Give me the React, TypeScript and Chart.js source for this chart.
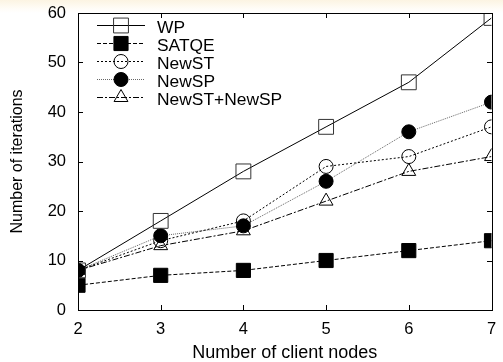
import React, { useEffect, useRef } from "react";
import { Chart, registerables } from "chart.js";

Chart.register(...registerables);

const xValues = [2, 3, 4, 5, 6, 7];
const wp = [8, 18, 28, 37, 46, 59];
const satqe = [5, 7, 8, 10, 12, 14];
const newST = [8, 14, 18, 29, 31, 37];
const newSP = [8, 15, 17, 26, 36, 42];
const newSTSP = [8, 13, 16, 22, 28, 31];
const seriesNames = ["WP", "SATQE", "NewST", "NewSP", "NewST+NewSP"];
const yTicks = [0, 10, 20, 30, 40, 50, 60];

const FONT = "'Liberation Sans', Arial, Helvetica, sans-serif";
const TARGET = { left: 78, right: 493, top: 13, bottom: 310 };

const toPts = (vals: number[]) => vals.map((v, i) => ({ x: xValues[i], y: v }));

function drawMarker(ctx: CanvasRenderingContext2D, style: string, x: number, y: number, r: number, fill: boolean, color: string) {
  ctx.save();
  ctx.setLineDash([]);
  ctx.lineWidth = 1;
  ctx.strokeStyle = color;
  ctx.fillStyle = color;
  ctx.beginPath();
  if (style === "rect") {
    const s = Math.SQRT1_2 * r;
    ctx.rect(x - s, y - s, 2 * s, 2 * s);
  } else if (style === "circle") {
    ctx.arc(x, y, r, 0, Math.PI * 2);
  } else if (style === "triangle") {
    let rad = 0;
    ctx.moveTo(x + Math.sin(rad) * r, y - Math.cos(rad) * r);
    rad += (2 * Math.PI) / 3;
    ctx.lineTo(x + Math.sin(rad) * r, y - Math.cos(rad) * r);
    rad += (2 * Math.PI) / 3;
    ctx.lineTo(x + Math.sin(rad) * r, y - Math.cos(rad) * r);
    ctx.closePath();
  }
  if (fill) ctx.fill();
  ctx.stroke();
  ctx.restore();
}

const framePlugin = {
  id: "frameTicks",
  afterDatasetsDraw(chart: any) {
    const { ctx, chartArea } = chart;
    const xs = chart.scales.x;
    const ys = chart.scales.y;
    const l = Math.round(chartArea.left);
    const r = Math.round(chartArea.right);
    const t = Math.round(chartArea.top);
    const b = Math.round(chartArea.bottom);
    ctx.save();
    ctx.fillStyle = "#000";
    ctx.fillRect(l, t, r - l + 1, 1);
    ctx.fillRect(l, b, r - l + 1, 1);
    ctx.fillRect(l, t, 1, b - t + 1);
    ctx.fillRect(r, t, 1, b - t + 1);
    const tl = 5;
    xValues.forEach((v) => {
      const px = Math.round(xs.getPixelForValue(v));
      ctx.fillRect(px, b - tl, 1, tl);
      ctx.fillRect(px, t, 1, tl);
    });
    yTicks.forEach((v) => {
      const py = Math.round(ys.getPixelForValue(v));
      ctx.fillRect(l, py, tl, 1);
      ctx.fillRect(r - tl, py, tl, 1);
    });
    ctx.restore();
  },
  afterDraw(chart: any) {
    const { ctx } = chart;
    const x0 = 97;
    const x1 = 145;
    const ys0 = 25;
    const step = 18.1;
    chart.data.datasets.forEach((ds: any, i: number) => {
      const y = Math.round(ys0 + i * step) + 0.5;
      ctx.save();
      ctx.strokeStyle = ds.borderColor;
      ctx.lineWidth = 1;
      ctx.setLineDash(ds.borderDash || []);
      ctx.beginPath();
      ctx.moveTo(x0, y);
      ctx.lineTo(x1, y);
      ctx.stroke();
      ctx.restore();
      const filled = ds.pointBackgroundColor !== "rgba(0,0,0,0)";
      drawMarker(ctx, ds.pointStyle, (x0 + x1) / 2, y, ds.pointRadius, filled, ds.pointBorderColor);
      ctx.save();
      ctx.fillStyle = "#000";
      ctx.font = `17.4px ${FONT}`;
      ctx.textAlign = "left";
      ctx.textBaseline = "middle";
      ctx.fillText(ds.label, 157, y + 2.5);
      ctx.restore();
    });
  },
};

export default function App() {
  const ref = useRef<HTMLCanvasElement>(null);
  useEffect(() => {
    document.body.style.margin = "0";
    const canvas = ref.current!;
    const clear = "rgba(0,0,0,0)";
    const opts: any = {
      animation: false,
      responsive: false,
      maintainAspectRatio: false,
      layout: { padding: { top: TARGET.top, right: 503 - TARGET.right, left: 0, bottom: 0 } },
      plugins: { legend: { display: false }, tooltip: { enabled: false } },
      elements: { line: { tension: 0 } },
      scales: {
        x: {
          type: "linear",
          min: 2,
          max: 7,
          grid: { display: false, drawTicks: true, tickLength: 10 },
          border: { display: false },
          ticks: {
            stepSize: 1,
            padding: 0,
            color: "#000",
            font: { family: FONT, size: 16.5 },
          },
          title: {
            display: true,
            text: "Number of client nodes",
            color: "#000",
            font: { family: FONT, size: 18, lineHeight: 1 },
            padding: { top: 0, bottom: 0 },
          },
          afterFit: (s: any) => {
            s.height = 362 - TARGET.bottom;
          },
        },
        y: {
          min: 0,
          max: 60,
          grid: { display: false, drawTicks: true, tickLength: 12 },
          border: { display: false },
          ticks: {
            stepSize: 10,
            padding: 0,
            color: "#000",
            font: { family: FONT, size: 16.5 },
          },
          title: {
            display: true,
            text: "Number of iterations",
            color: "#000",
            font: { family: FONT, size: 16 },
            padding: { top: 8, bottom: 0 },
          },
          afterFit: (s: any) => {
            s.width = TARGET.left;
          },
        },
      },
    };
    const chart = new Chart(canvas, {
      type: "line",
      data: {
        datasets: [
          {
            label: seriesNames[0],
            data: toPts(wp),
            borderColor: "#000",
            borderWidth: 1,
            pointStyle: "rect",
            pointRadius: 10.5,
            pointBorderColor: "#333",
            pointBackgroundColor: clear,
            pointBorderWidth: 1,
          },
          {
            label: seriesNames[1],
            data: toPts(satqe),
            borderColor: "#000",
            borderWidth: 1,
            borderDash: [4, 2],
            pointStyle: "rect",
            pointRadius: 10,
            pointBorderColor: "#000",
            pointBackgroundColor: "#000",
            pointBorderWidth: 1,
          },
          {
            label: seriesNames[2],
            data: toPts(newST),
            borderColor: "#000",
            borderWidth: 1,
            borderDash: [2, 2],
            pointStyle: "circle",
            pointRadius: 7,
            pointBorderColor: "#000",
            pointBackgroundColor: clear,
            pointBorderWidth: 1,
          },
          {
            label: seriesNames[3],
            data: toPts(newSP),
            borderColor: "#666",
            borderWidth: 1,
            borderDash: [1, 1],
            pointStyle: "circle",
            pointRadius: 7,
            pointBorderColor: "#000",
            pointBackgroundColor: "#000",
            pointBorderWidth: 1,
          },
          {
            label: seriesNames[4],
            data: toPts(newSTSP),
            borderColor: "#000",
            borderWidth: 1,
            borderDash: [6, 2, 2, 2],
            pointStyle: "triangle",
            pointRadius: 8,
            pointBorderColor: "#000",
            pointBackgroundColor: clear,
            pointBorderWidth: 1,
          },
        ],
      },
      options: opts,
      plugins: [framePlugin],
    } as any);
    return () => chart.destroy();
  }, []);
  return (
    <div
      style={{
        width: 503,
        height: 362,
        background: "linear-gradient(to bottom, #fcf4e2 0px, #fffdf8 9px, #ffffff 13px)",
      }}
    >
      <canvas ref={ref} width={503} height={362} style={{ display: "block" }} />
    </div>
  );
}
